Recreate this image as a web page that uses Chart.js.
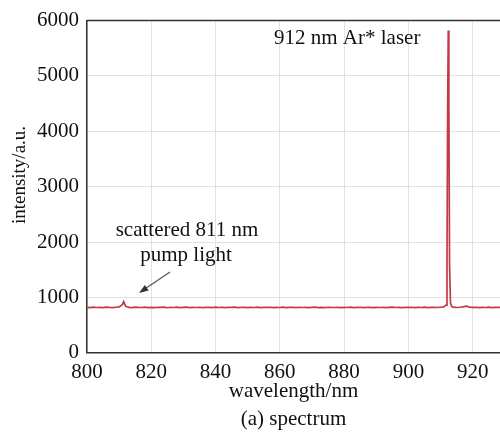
<!DOCTYPE html>
<html>
<head>
<meta charset="utf-8">
<script src="https://cdn.jsdelivr.net/npm/chart.js@4/dist/chart.umd.min.js"></script>
<style>
  html, body { margin: 0; padding: 0; background: #fff; }
  #wrap { width: 500px; height: 432px; }
</style>
</head>
<body>
<div id="wrap"><canvas id="spectrum"></canvas></div>
<script>
// Spectrum data
const wavelengths = [
  800, 801, 802, 803, 804, 805, 806, 807, 808, 809,
  810, 811, 811.4, 812, 813, 814, 815, 816, 817, 818, 819,
  820, 821, 822, 823, 824, 825, 826, 827, 828, 829,
  830, 831, 832, 833, 834, 835, 836, 837, 838, 839,
  840, 841, 842, 843, 844, 845, 846, 847, 848, 849,
  850, 851, 852, 853, 854, 855, 856, 857, 858, 859,
  860, 861, 862, 863, 864, 865, 866, 867, 868, 869,
  870, 871, 872, 873, 874, 875, 876, 877, 878, 879,
  880, 881, 882, 883, 884, 885, 886, 887, 888, 889,
  890, 891, 892, 893, 894, 895, 896, 897, 898, 899,
  900, 901, 902, 903, 904, 905, 906, 907, 908, 909,
  910, 911, 911.7, 912.0, 912.2, 912.4, 912.6, 912.8, 913.1, 913.5,
  914, 915, 916, 917, 918, 919, 920, 921, 922, 923,
  924, 925, 926, 927, 928, 929, 930
];
const intensity = [
  820, 816, 824, 818, 822, 815, 825, 819, 817, 823,
  828, 870, 925, 842, 821, 816, 826, 820, 818, 824, 815,
  821, 817, 823, 819, 826, 814, 822, 818, 824, 816,
  820, 825, 815, 821, 818, 823, 817, 822, 819, 815,
  824, 818, 821, 816, 823, 819, 825, 817, 820, 822,
  815, 821, 818, 824, 816, 822, 819, 823, 815, 820,
  818, 824, 817, 821, 819, 815, 823, 818, 822, 816,
  820, 824, 817, 821, 815, 823, 819, 818, 822, 816,
  821, 818, 824, 816, 820, 823, 817, 819, 822, 815,
  821, 818, 823, 816, 820, 824, 818, 821, 817, 822,
  819, 823, 816, 821, 818, 824, 817, 820, 822, 818,
  823, 828, 860, 1500, 4300, 5820, 4400, 1600, 900, 835,
  824, 818, 823, 831, 842, 826, 819, 823, 817, 821,
  818, 824, 816, 822, 819, 821, 818
];
const xTicks = [800, 820, 840, 860, 880, 900, 920];
const yTicks = [0, 1000, 2000, 3000, 4000, 5000, 6000];

const serif = "'Liberation Serif', 'DejaVu Serif', serif";
const ink = '#111';

// top frame line, y title and annotations
const annotate = {
  id: 'annotate',
  afterDatasetsDraw(chart) {
    const ctx = chart.ctx;
    const a = chart.chartArea;
    ctx.save();
    ctx.strokeStyle = '#333';
    ctx.lineWidth = 1.5;
    ctx.beginPath();
    ctx.moveTo(a.left, a.top);
    ctx.lineTo(a.right, a.top);
    ctx.stroke();

    ctx.fillStyle = ink;
    // y axis title, sits a little above centre in the original
    ctx.save();
    ctx.translate(20, 175);
    ctx.rotate(-Math.PI / 2);
    ctx.font = '19px ' + serif;
    ctx.textAlign = 'center';
    ctx.textBaseline = 'middle';
    ctx.fillText('intensity/a.u.', 0, 0);
    ctx.restore();

    ctx.font = '21px ' + serif;
    ctx.textBaseline = 'alphabetic';
    ctx.textAlign = 'left';
    ctx.fillText('912 nm Ar* laser', 274, 44);
    ctx.textAlign = 'center';
    ctx.fillText('scattered 811 nm', 187, 236);
    ctx.fillText('pump light', 186, 261);

    // arrow
    const x0 = 170, y0 = 272, x1 = 139, y1 = 293;
    ctx.strokeStyle = '#555';
    ctx.fillStyle = '#333';
    ctx.lineWidth = 1.2;
    ctx.beginPath();
    ctx.moveTo(x0, y0);
    ctx.lineTo(x1 + 5, y1 - 3.4);
    ctx.stroke();
    const ang = Math.atan2(y1 - y0, x1 - x0);
    ctx.beginPath();
    ctx.moveTo(x1, y1);
    ctx.lineTo(x1 - 10 * Math.cos(ang - 0.35), y1 - 10 * Math.sin(ang - 0.35));
    ctx.lineTo(x1 - 10 * Math.cos(ang + 0.35), y1 - 10 * Math.sin(ang + 0.35));
    ctx.closePath();
    ctx.fill();
    ctx.restore();
  }
};

new Chart(document.getElementById('spectrum'), {
  type: 'line',
  data: {
    datasets: [{
      data: wavelengths.map((w, i) => ({ x: w, y: intensity[i] })),
      borderColor: '#c23a44',
      borderWidth: 1.7,
      pointRadius: 0,
      tension: 0,
      fill: false
    }]
  },
  options: {
    responsive: true,
    maintainAspectRatio: false,
    animation: false,
    layout: { padding: { top: 19, right: 0, bottom: 0, left: 0 } },
    plugins: {
      legend: { display: false },
      tooltip: { enabled: false },
      title: {
        display: true,
        text: '(a) spectrum',
        position: 'bottom',
        fullSize: false,
        color: ink,
        font: { family: serif, size: 21, weight: 'normal' },
        padding: { top: 0, bottom: 0 }
      }
    },
    scales: {
      x: {
        type: 'linear',
        min: 800,
        max: 928.5,
        afterBuildTicks: s => { s.ticks = xTicks.map(v => ({ value: v })); },
        afterFit: s => { s.height = 54; },
        grid: { color: '#e2e2e2', drawTicks: false },
        border: { color: '#333', width: 1.5 },
        ticks: { color: ink, font: { family: serif, size: 21 }, padding: 7, maxRotation: 0, callback: v => String(v) },
        title: {
          display: true,
          text: 'wavelength/nm',
          color: ink,
          font: { family: serif, size: 21 },
          padding: { top: 0, bottom: 3 }
        }
      },
      y: {
        min: 0,
        max: 6000,
        afterBuildTicks: s => { s.ticks = yTicks.map(v => ({ value: v })); },
        afterFit: s => { s.width = 87; },
        grid: { color: '#e2e2e2', drawTicks: false },
        border: { color: '#333', width: 1.5 },
        ticks: { color: ink, font: { family: serif, size: 21 }, padding: 8, callback: v => String(v) }
      }
    }
  },
  plugins: [annotate]
});
</script>
</body>
</html>
